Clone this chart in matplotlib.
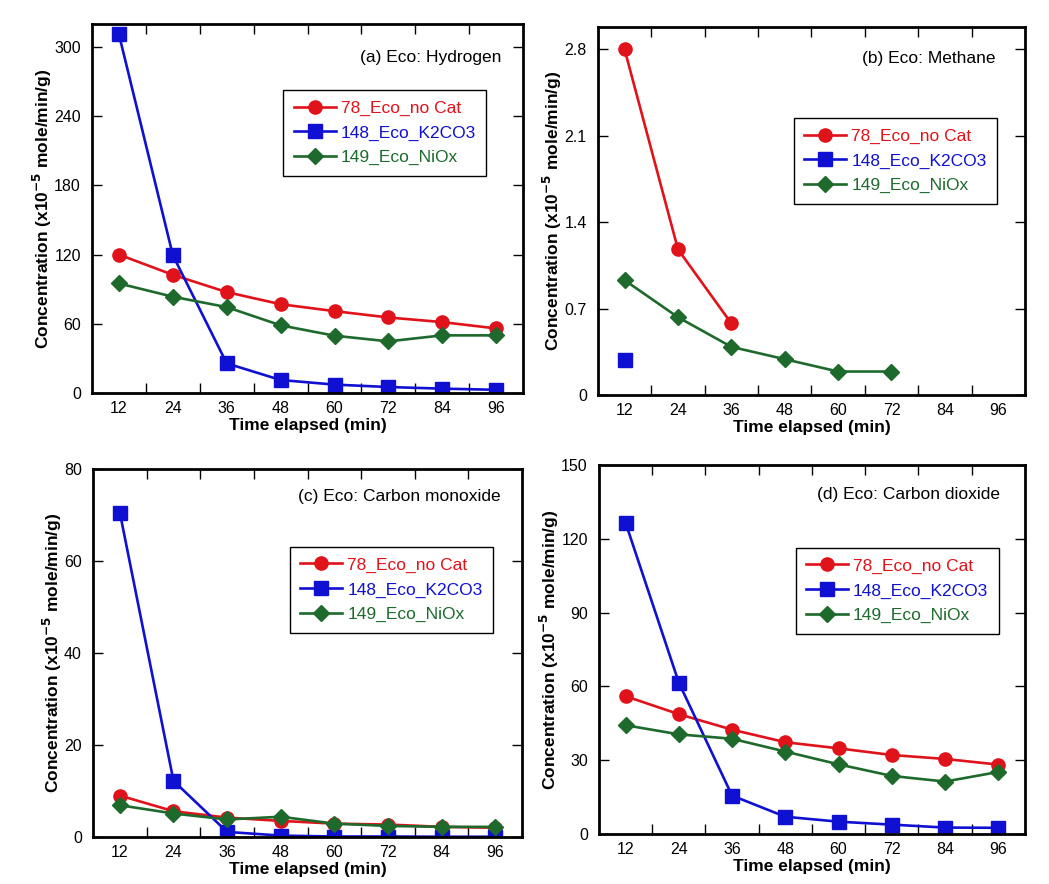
import numpy as np
import matplotlib.pyplot as plt
from matplotlib.ticker import FixedLocator

plt.rcParams['font.family'] = ['Liberation Sans', 'DejaVu Sans']

# time points (min)
time = [12, 24, 36, 48, 60, 72, 84, 96]
nan = np.nan

# (a) Hydrogen
h2_nocat = [120, 102.5, 87.5, 77, 71, 65.5, 61.5, 56]
h2_k2co3 = [311, 119.5, 25.7, 11.3, 7.3, 5.2, 3.8, 2.8]
h2_niox = [95, 83.5, 74.5, 58.7, 49.7, 44.8, 50, 50]

# (b) Methane
ch4_nocat = [2.8, 1.18, 0.58, nan, nan, nan, nan, nan]
ch4_k2co3 = [0.28, nan, nan, nan, nan, nan, nan, nan]
ch4_niox = [0.93, 0.63, 0.39, 0.29, 0.19, 0.19, nan, nan]

# (c) Carbon monoxide
co_nocat = [9.0, 5.6, 4.2, 3.5, 2.9, 2.7, 2.2, 2.0]
co_k2co3 = [70.5, 12.2, 1.1, 0.3, 0.1, 0.1, 0.05, 0.05]
co_niox = [6.9, 5.1, 3.8, 4.4, 2.9, 2.4, 2.2, 2.2]

# (d) Carbon dioxide
co2_nocat = [56, 48.7, 42.4, 37.3, 34.8, 32.1, 30.5, 28.2]
co2_k2co3 = [126.5, 61.5, 15.6, 7.0, 5.0, 3.8, 2.6, 2.5]
co2_niox = [44.2, 40.5, 38.7, 33.5, 28.3, 23.6, 21.3, 25.2]

labels = ['78_Eco_no Cat', '148_Eco_K2CO3', '149_Eco_NiOx']
colors = ['#E0121A', '#1010D2', '#1D6A2C']
markers = ['o', 's', 'D']
msizes = [9.5, 9.5, 8.5]

fig = plt.figure(figsize=(10.49, 8.84), dpi=100)

panels = [
    # position, series, ylim, yticks, title, title pos, legend anchor
    ([0.0877, 0.5554, 0.411, 0.4175], [h2_nocat, h2_k2co3, h2_niox], 320,
     [0, 60, 120, 180, 240, 300], '(a) Eco: Hydrogen', (0.949, 0.91), (0.444, 0.821)),
    ([0.570, 0.5532, 0.407, 0.416], [ch4_nocat, ch4_k2co3, ch4_niox], 2.98,
     [0, 0.7, 1.4, 2.1, 2.8], '(b) Eco: Methane', (0.932, 0.916), (0.459, 0.753)),
    ([0.0887, 0.0532, 0.409, 0.4163], [co_nocat, co_k2co3, co_niox], 80,
     [0, 20, 40, 60, 80], '(c) Eco: Carbon monoxide', (0.949, 0.924), (0.459, 0.788)),
    ([0.571, 0.0566, 0.406, 0.4174], [co2_nocat, co2_k2co3, co2_niox], 150,
     [0, 30, 60, 90, 120, 150], '(d) Eco: Carbon dioxide', (0.941, 0.921), (0.462, 0.775)),
]

for pos, series, ymax, yticks, title, tpos, lpos in panels:
    ax = fig.add_axes(pos)
    for y, lab, c, m, ms in zip(series, labels, colors, markers, msizes):
        ax.plot(time, y, color=c, marker=m, markersize=ms, linewidth=1.9, label=lab)
    ax.set_xlim(6, 102)
    ax.set_ylim(0, ymax)
    ax.set_xticks(time)
    ax.xaxis.set_minor_locator(FixedLocator([18, 30, 42, 54, 66, 78, 90]))
    ax.set_yticks(yticks)
    ax.set_yticklabels([('%g' % v) for v in yticks])
    ax.tick_params(axis='x', which='major', length=0, labelsize=11.5, pad=6)
    ax.tick_params(axis='x', which='minor', direction='in', length=7, width=1,
                   top=True, bottom=True)
    ax.tick_params(axis='y', direction='in', length=7, width=1, left=True,
                   right=True, labelsize=11.5, pad=8)
    for s in ax.spines.values():
        s.set_linewidth(2)
    ax.set_xlabel('Time elapsed (min)', fontsize=12.5, fontweight='bold', labelpad=1)
    ax.set_ylabel(r'Concentration (x10$^{\mathbf{-5}}$ mole/min/g)', fontsize=12.5,
                  fontweight='bold', labelpad=0)
    ax.text(tpos[0], tpos[1], title, transform=ax.transAxes, ha='right', va='center',
            fontsize=12.5)
    leg = ax.legend(loc='upper left', bbox_to_anchor=lpos, borderaxespad=0, fontsize=12.5,
                    fancybox=False, edgecolor='black', framealpha=1, handlelength=2.4,
                    labelspacing=0.55, handletextpad=0.3, borderpad=0.6)
    leg.get_frame().set_linewidth(1)
    for t, c in zip(leg.get_texts(), colors):
        t.set_color(c)

fig.savefig('out.png', dpi=100)
